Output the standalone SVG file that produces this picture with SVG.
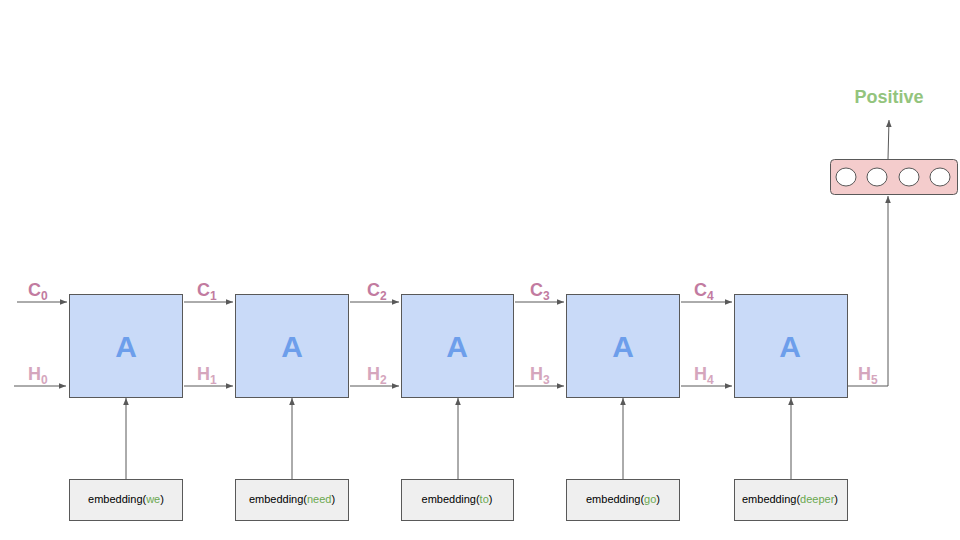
<svg xmlns="http://www.w3.org/2000/svg" width="960" height="540" viewBox="0 0 960 540">
<style>
.cell{fill:#c9daf8;stroke:#595959;stroke-width:1}
.emb{fill:#efefef;stroke:#595959;stroke-width:1}
.out{fill:#f4cccc;stroke:#595959;stroke-width:1}
.dot{fill:#ffffff;stroke:#595959;stroke-width:1}
.A{font-family:"Liberation Sans",Arial,sans-serif;font-weight:bold;font-size:30px;fill:#6d9eeb;text-anchor:middle}
.et{font-family:"Liberation Sans",Arial,sans-serif;font-size:11px;fill:#000;text-anchor:middle}
.w{fill:#6aa84f}
.C{font-family:"Liberation Sans",Arial,sans-serif;font-weight:bold;font-size:18px;fill:#c27ba0}
.H{font-family:"Liberation Sans",Arial,sans-serif;font-weight:bold;font-size:18px;fill:#d5a6bd}
.sub{font-size:12px}
.pos{font-family:"Liberation Sans",Arial,sans-serif;font-weight:bold;font-size:18px;fill:#93c47d;text-anchor:middle}
.ln{stroke:#595959;stroke-width:1;fill:none}
</style>
<defs>
<marker id="ah" viewBox="0 0 10 10" refX="10" refY="5" markerWidth="7" markerHeight="7" orient="auto" markerUnits="userSpaceOnUse">
<path d="M0,1 L10,5 L0,9 z" fill="#595959"/>
</marker>
</defs>
<rect width="960" height="540" fill="#ffffff"/>
<g id="connectors">
<line class="ln" x1="17" y1="302" x2="67" y2="302" marker-end="url(#ah)"/>
<line class="ln" x1="14" y1="386" x2="66" y2="386" marker-end="url(#ah)"/>
<line class="ln" x1="184" y1="302" x2="233" y2="302" marker-end="url(#ah)"/>
<line class="ln" x1="184" y1="386" x2="233" y2="386" marker-end="url(#ah)"/>
<line class="ln" x1="350" y1="302" x2="399" y2="302" marker-end="url(#ah)"/>
<line class="ln" x1="350" y1="386" x2="399" y2="386" marker-end="url(#ah)"/>
<line class="ln" x1="515" y1="302" x2="564" y2="302" marker-end="url(#ah)"/>
<line class="ln" x1="515" y1="386" x2="564" y2="386" marker-end="url(#ah)"/>
<line class="ln" x1="681" y1="302" x2="732" y2="302" marker-end="url(#ah)"/>
<line class="ln" x1="681" y1="386" x2="732" y2="386" marker-end="url(#ah)"/>
<polyline class="ln" points="847,386 888,386 888,196" marker-end="url(#ah)"/>
<line class="ln" x1="888" y1="159" x2="889" y2="120" marker-end="url(#ah)"/>
<line class="ln" x1="126" y1="479" x2="126" y2="398" marker-end="url(#ah)"/>
<line class="ln" x1="292" y1="479" x2="292" y2="398" marker-end="url(#ah)"/>
<line class="ln" x1="458" y1="479" x2="458" y2="398" marker-end="url(#ah)"/>
<line class="ln" x1="623" y1="479" x2="623" y2="398" marker-end="url(#ah)"/>
<line class="ln" x1="791" y1="479" x2="791" y2="398" marker-end="url(#ah)"/>
</g>
<g id="labels">
<text class="C" x="28" y="296">C<tspan class="sub" dy="4">0</tspan></text>
<text class="H" x="28" y="380">H<tspan class="sub" dy="4">0</tspan></text>
<text class="C" x="197" y="296">C<tspan class="sub" dy="4">1</tspan></text>
<text class="H" x="197" y="380">H<tspan class="sub" dy="4">1</tspan></text>
<text class="C" x="367" y="296">C<tspan class="sub" dy="4">2</tspan></text>
<text class="H" x="367" y="380">H<tspan class="sub" dy="4">2</tspan></text>
<text class="C" x="530" y="296">C<tspan class="sub" dy="4">3</tspan></text>
<text class="H" x="530" y="380">H<tspan class="sub" dy="4">3</tspan></text>
<text class="C" x="694" y="296">C<tspan class="sub" dy="4">4</tspan></text>
<text class="H" x="694" y="380">H<tspan class="sub" dy="4">4</tspan></text>
<text class="H" x="858" y="380">H<tspan class="sub" dy="4">5</tspan></text>
</g>
<g id="cell1"><rect class="cell" x="69.5" y="294.5" width="113" height="103"/><text class="A" x="126" y="357">A</text></g>
<g id="cell2"><rect class="cell" x="235.5" y="294.5" width="113" height="103"/><text class="A" x="292" y="357">A</text></g>
<g id="cell3"><rect class="cell" x="401.5" y="294.5" width="112" height="103"/><text class="A" x="457" y="357">A</text></g>
<g id="cell4"><rect class="cell" x="566.5" y="294.5" width="113" height="103"/><text class="A" x="623" y="357">A</text></g>
<g id="cell5"><rect class="cell" x="734.5" y="294.5" width="113" height="103"/><text class="A" x="790" y="357">A</text></g>
<g id="emb1"><rect class="emb" x="69.5" y="479.5" width="113" height="41"/><text class="et" x="126" y="503">embedding(<tspan class="w">we</tspan>)</text></g>
<g id="emb2"><rect class="emb" x="235.5" y="479.5" width="113" height="41"/><text class="et" x="292" y="503">embedding(<tspan class="w">need</tspan>)</text></g>
<g id="emb3"><rect class="emb" x="401.5" y="479.5" width="112" height="41"/><text class="et" x="457" y="503">embedding(<tspan class="w">to</tspan>)</text></g>
<g id="emb4"><rect class="emb" x="566.5" y="479.5" width="113" height="41"/><text class="et" x="623" y="503">embedding(<tspan class="w">go</tspan>)</text></g>
<g id="emb5"><rect class="emb" x="734.5" y="479.5" width="113" height="41"/><text class="et" x="790" y="503">embedding(<tspan class="w">deeper</tspan>)</text></g>
<g id="output">
<rect class="out" x="830.5" y="159.5" width="127" height="35" rx="4"/>
<ellipse class="dot" cx="846" cy="177" rx="10" ry="9"/>
<ellipse class="dot" cx="877" cy="177" rx="10" ry="9"/>
<ellipse class="dot" cx="909" cy="177" rx="10" ry="9"/>
<ellipse class="dot" cx="940" cy="177" rx="10" ry="9"/>
</g>
<g id="positive"><text class="pos" x="889" y="103">Positive</text></g>
</svg>
